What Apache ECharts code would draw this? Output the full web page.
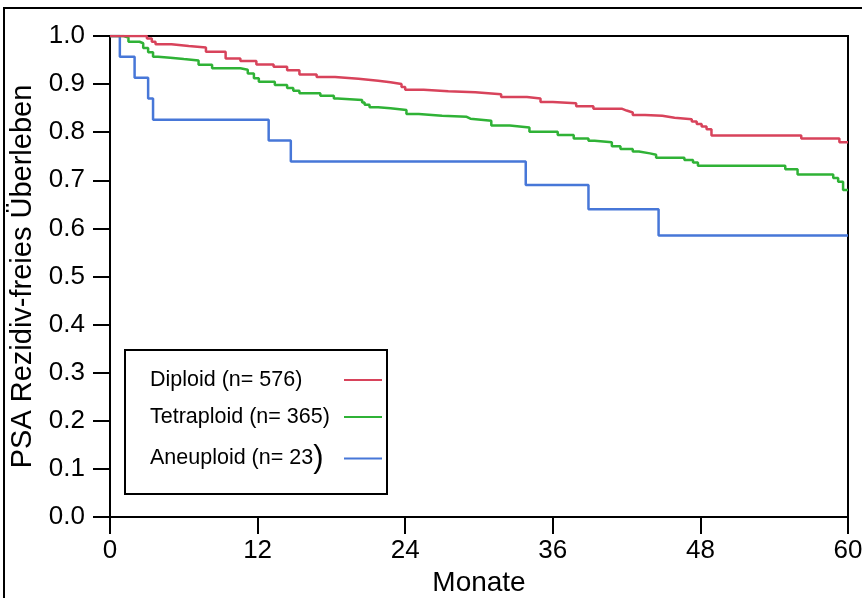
<!DOCTYPE html>
<html>
<head>
    <meta charset="utf-8">
    <title>PSA Rezidiv-freies Überleben</title>
    <script type="text/javascript" src="https://cdn.jsdelivr.net/npm/echarts@6/dist/echarts.min.js"></script>
    <style>
        html, body { margin:0; padding:0; background:#fff; }
        #chart { width:862px; height:598px; }
    </style>
</head>
<body>
<div id="chart"></div>
<script type="text/javascript">
var diploidMonths = [0, 3.0, 3.4, 3.7, 5.0, 6.4, 7.8, 9.4, 10.6, 11.9, 13.3, 14.4, 15.4, 16.8, 18.3, 20.2, 21.8, 22.8, 23.7, 24.0,
    25.5, 27.5, 29.7, 31.8, 33.9, 35.0, 36.0, 37.9, 39.3, 41.6, 42.0, 42.5, 43.5, 44.9, 45.9, 47.3, 47.7, 48.1, 48.5, 48.9,
    56.2, 59.3, 60];
var diploidSurv = [1.0, 0.995, 0.988, 0.983, 0.979, 0.976, 0.967, 0.953, 0.948, 0.941, 0.936, 0.929, 0.920, 0.915, 0.911, 0.907, 0.904, 0.900, 0.894, 0.888,
    0.885, 0.883, 0.879, 0.873, 0.870, 0.863, 0.860, 0.854, 0.849, 0.845, 0.841, 0.836, 0.834, 0.830, 0.827, 0.822, 0.817, 0.812, 0.806, 0.793,
    0.787, 0.779, 0.779];

var tetraMonths = [0, 1.1, 1.5, 2.4, 2.7, 3.1, 3.5, 3.9, 4.9, 6.0, 7.2, 8.3, 10.6, 11.2, 11.7, 12.1, 13.4, 14.4, 14.9, 15.4,
    17.1, 18.2, 18.5, 20.5, 20.7, 21.1, 21.8, 22.8, 24.1, 25.1, 27.0, 29.0, 29.3, 31.0, 32.5, 34.1, 36.4, 37.7, 38.9, 39.4,
    40.8, 41.5, 42.5, 43.0, 43.9, 44.4, 46.7, 47.4, 47.8, 54.9, 55.9, 58.8, 59.2, 59.6, 60];
var tetraSurv = [1.0, 0.997, 0.988, 0.985, 0.975, 0.966, 0.957, 0.955, 0.952, 0.949, 0.940, 0.933, 0.930, 0.922, 0.912, 0.905, 0.898, 0.892, 0.886, 0.881,
    0.876, 0.870, 0.867, 0.862, 0.857, 0.852, 0.850, 0.846, 0.838, 0.834, 0.832, 0.828, 0.824, 0.814, 0.810, 0.801, 0.794, 0.787, 0.782, 0.779,
    0.771, 0.765, 0.760, 0.756, 0.753, 0.747, 0.742, 0.737, 0.730, 0.723, 0.712, 0.705, 0.697, 0.680, 0.680];

var aneuMonths = [0, 0.8, 2.0, 3.1, 3.5, 12.9, 14.7, 33.8, 38.9, 44.6, 60];
var aneuSurv = [1.0, 0.957, 0.913, 0.870, 0.826, 0.783, 0.739, 0.690, 0.640, 0.585, 0.585];

var seriesNames = ['Diploid (n= 576)', 'Tetraploid (n= 365)', 'Aneuploid (n= 23)'];
var seriesColors = ['#d8435b', '#2fb236', '#4777d8'];
var xTicks = [0, 12, 24, 36, 48, 60];

function pairs(xs, ys) {
    var out = [];
    for (var i = 0; i < xs.length; i++) out.push([xs[i], ys[i]]);
    return out;
}

var font = '"Liberation Sans", Arial, sans-serif';
var myChart = echarts.init(document.getElementById('chart'), null, {renderer: 'canvas'});

var allData = [pairs(diploidMonths, diploidSurv), pairs(tetraMonths, tetraSurv), pairs(aneuMonths, aneuSurv)];
var series = [];
for (var k = 0; k < 3; k++) {
    series.push({
        name: seriesNames[k],
        type: 'line',
        step: 'end',
        symbol: 'none',
        data: allData[k],
        z: 3 - k,
        lineStyle: {color: seriesColors[k], width: 2.5},
        itemStyle: {color: seriesColors[k]}
    });
}

var option = {
    animation: false,
    backgroundColor: '#fff',
    textStyle: {fontFamily: font},
    grid: {
        left: 110, right: 14, top: 36, bottom: 81,
        containLabel: false,
        outerBoundsMode: 'none',
        show: true, borderColor: '#000', borderWidth: 2
    },
    graphic: [{
        type: 'polyline',
        shape: {points: [[4, 598], [4, 8], [862, 8]]},
        style: {stroke: '#000', lineWidth: 2, fill: null},
        silent: true
    }],
    legend: {
        orient: 'vertical',
        left: 125, top: 350,
        align: 'right',
        icon: 'rect',
        itemWidth: 38, itemHeight: 2,
        itemGap: 15,
        padding: [19, 5, 20, 25],
        borderColor: '#000', borderWidth: 2,
        backgroundColor: '#fff',
        data: seriesNames,
        formatter: function (name) {
            if (name.indexOf('Aneuploid') === 0) {
                return '{a|' + name.slice(0, -1) + '}{b|)}';
            }
            return '{a|' + name + '}';
        },
        textStyle: {
            fontFamily: font, fontSize: 21.5, color: '#000', width: 189, lineHeight: 22, align: 'left',
            rich: {
                a: {fontFamily: font, fontSize: 21.5, color: '#000', lineHeight: 22, align: 'left'},
                b: {fontFamily: font, fontSize: 31, color: '#000', lineHeight: 22, align: 'left'}
            }
        }
    },
    xAxis: {
        type: 'value',
        min: 0, max: 60, interval: 12,
        name: 'Monate',
        nameLocation: 'middle',
        nameGap: 50,
        nameTextStyle: {fontFamily: font, fontSize: 28, color: '#000'},
        axisLine: {show: true, lineStyle: {color: '#000', width: 2}},
        axisTick: {show: true, length: 17, lineStyle: {color: '#000', width: 2}},
        axisLabel: {
            margin: 21, fontFamily: font, fontSize: 26, color: '#000',
            formatter: function (v) { return xTicks.indexOf(v) >= 0 ? String(v) : ''; }
        },
        splitLine: {show: false}
    },
    yAxis: {
        type: 'value',
        min: 0, max: 1, interval: 0.1,
        name: 'PSA Rezidiv-freies Überleben',
        nameLocation: 'middle',
        nameGap: 72,
        nameTextStyle: {fontFamily: font, fontSize: 29, color: '#000'},
        axisLine: {show: true, lineStyle: {color: '#000', width: 2}},
        axisTick: {show: true, length: 17, lineStyle: {color: '#000', width: 2}},
        axisLabel: {
            margin: 25, fontFamily: font, fontSize: 26, color: '#000',
            formatter: function (v) { return v.toFixed(1); }
        },
        splitLine: {show: false}
    },
    series: series
};

myChart.setOption(option);
</script>
</body>
</html>
